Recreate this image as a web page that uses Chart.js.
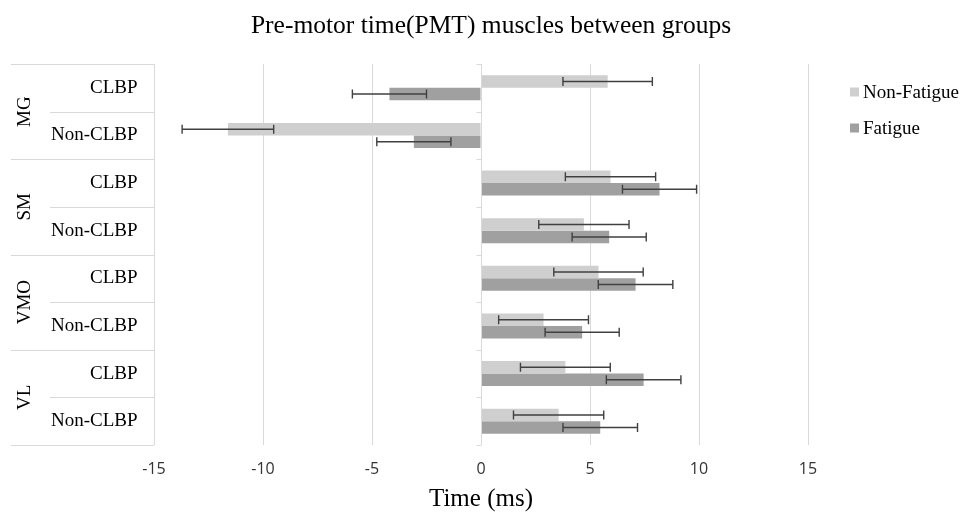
<!DOCTYPE html>
<html>
<head>
<meta charset="utf-8">
<script src="https://cdn.jsdelivr.net/npm/chart.js@4.4.0/dist/chart.umd.min.js"></script>
<style>
html,body{margin:0;padding:0;background:#fff;}
#wrap{width:961px;height:512px;position:relative;}
</style>
</head>
<body>
<div id="wrap"><canvas id="c" width="961" height="512"></canvas></div>
<script>
// ---- data ----
const chartTitle = 'Pre-motor time(PMT) muscles between groups';
const axisTitle = 'Time (ms)';
const groups = ['MG', 'SM', 'VMO', 'VL'];
const subgroups = ['CLBP', 'Non-CLBP'];
const seriesNames = ['Non-Fatigue', 'Fatigue'];
const nonFatigue = [5.81, -11.61, 5.94, 4.72, 5.39, 2.87, 3.87, 3.56];
const fatigue = [-4.20, -3.08, 8.19, 5.88, 7.09, 4.64, 7.46, 5.47];
const nonFatigueErr = [2.05, 2.10, 2.07, 2.07, 2.05, 2.06, 2.06, 2.07];
const fatigueErr = [1.70, 1.70, 1.70, 1.70, 1.71, 1.70, 1.71, 1.71];
const xTicks = [-15, -10, -5, 0, 5, 10, 15];

const labels = groups.flatMap(g => subgroups.map(s => g + ' ' + s));
const errs = [nonFatigueErr, fatigueErr];

const SERIF = '"Liberation Serif", "Times New Roman", serif';
const GRID = '#d9d9d9';

const tablePlugin = {
  id: 'tablePlugin',
  afterDraw(chart) {
    const ctx = chart.ctx;
    const ys = chart.scales.y, xs = chart.scales.x;
    const area = chart.chartArea;
    const n = labels.length;
    const bounds = [area.top];
    for (let i = 0; i < n - 1; i++) {
      bounds.push((ys.getPixelForValue(i) + ys.getPixelForValue(i + 1)) / 2);
    }
    bounds.push(area.bottom);
    ctx.save();
    // chart title
    ctx.fillStyle = '#000';
    ctx.font = '25.5px ' + SERIF;
    ctx.textAlign = 'center';
    ctx.textBaseline = 'alphabetic';
    ctx.fillText(chartTitle, 491, 33);

    ctx.strokeStyle = GRID;
    ctx.lineWidth = 1;
    ctx.beginPath();
    ctx.moveTo(Math.round(area.left) + 0.5, area.top);
    ctx.lineTo(Math.round(area.left) + 0.5, area.bottom);
    ctx.stroke();
    const x0 = Math.round(xs.getPixelForValue(0)) + 0.5;
    bounds.forEach((b, i) => {
      const yy = Math.round(b) + 0.5;
      const isGroup = i % subgroups.length === 0;
      ctx.beginPath();
      ctx.moveTo(isGroup ? 11 : 50, yy);
      ctx.lineTo(area.left, yy);
      ctx.stroke();
      ctx.beginPath();
      ctx.moveTo(x0 - 5, yy);
      ctx.lineTo(x0, yy);
      ctx.stroke();
    });
    ctx.beginPath();
    ctx.moveTo(x0, area.top);
    ctx.lineTo(x0, area.bottom);
    ctx.stroke();

    ctx.fillStyle = '#000';
    ctx.font = '19px ' + SERIF;
    ctx.textAlign = 'right';
    ctx.textBaseline = 'middle';
    for (let i = 0; i < n; i++) {
      ctx.fillText(subgroups[i % subgroups.length], 137.5, ys.getPixelForValue(i));
    }
    groups.forEach((g, gi) => {
      const a = ys.getPixelForValue(gi * subgroups.length);
      const b = ys.getPixelForValue(gi * subgroups.length + subgroups.length - 1);
      ctx.save();
      ctx.translate(25, (a + b) / 2);
      ctx.rotate(-Math.PI / 2);
      ctx.textAlign = 'center';
      ctx.textBaseline = 'middle';
      ctx.fillText(g, 0, 0);
      ctx.restore();
    });

    ctx.font = '19px ' + SERIF;
    ctx.textAlign = 'left';
    chart.data.datasets.forEach((ds, i) => {
      const cy = 92 + i * 36;
      ctx.fillStyle = ds.backgroundColor;
      ctx.fillRect(850, cy - 4.5, 9, 9);
      ctx.fillStyle = '#000';
      ctx.fillText(ds.label, 863, cy + 1);
    });
    ctx.restore();
  },
  afterDatasetsDraw(chart) {
    const ctx = chart.ctx;
    const xs = chart.scales.x;
    ctx.save();
    ctx.strokeStyle = '#404040';
    ctx.lineWidth = 1.4;
    chart.data.datasets.forEach((ds, di) => {
      const meta = chart.getDatasetMeta(di);
      meta.data.forEach((el, i) => {
        const v = ds.data[i], e = errs[di][i];
        const xa = xs.getPixelForValue(v - e);
        const xb = xs.getPixelForValue(v + e);
        const y = el.y;
        ctx.beginPath();
        ctx.moveTo(xa, y); ctx.lineTo(xb, y);
        ctx.moveTo(xa, y - 4.5); ctx.lineTo(xa, y + 4.5);
        ctx.moveTo(xb, y - 4.5); ctx.lineTo(xb, y + 4.5);
        ctx.stroke();
      });
    });
    ctx.restore();
  }
};

new Chart(document.getElementById('c'), {
  type: 'bar',
  data: {
    labels: labels,
    datasets: [
      { label: seriesNames[0], data: nonFatigue, backgroundColor: '#cfcfcf', borderWidth: 0 },
      { label: seriesNames[1], data: fatigue, backgroundColor: '#a0a0a0', borderWidth: 0 }
    ]
  },
  options: {
    indexAxis: 'y',
    responsive: false,
    animation: false,
    devicePixelRatio: 1,
    layout: { padding: { left: 154, right: 153, top: 64, bottom: 0 } },
    datasets: { bar: { categoryPercentage: 0.525, barPercentage: 1.0 } },
    plugins: {
      legend: { display: false },
      tooltip: { enabled: false },
      title: { display: false }
    },
    scales: {
      x: {
        type: 'linear',
        min: xTicks[0],
        max: xTicks[xTicks.length - 1],
        afterBuildTicks(scale) { scale.ticks = xTicks.map(v => ({ value: v })); },
        afterFit(scale) { scale.height = 67; },
        grid: { color: GRID, lineWidth: 1, drawTicks: false, tickLength: 0 },
        border: { display: false },
        ticks: {
          padding: 15,
          color: '#333',
          font: { family: '"Open Sans", sans-serif', size: 16, lineHeight: 1.2 },
          maxRotation: 0
        },
        title: {
          display: true,
          text: axisTitle,
          color: '#000',
          font: { family: SERIF, size: 25, lineHeight: 1.0 },
          padding: { top: 8, bottom: 0 }
        }
      },
      y: { display: false }
    }
  },
  plugins: [tablePlugin]
});
</script>
</body>
</html>
